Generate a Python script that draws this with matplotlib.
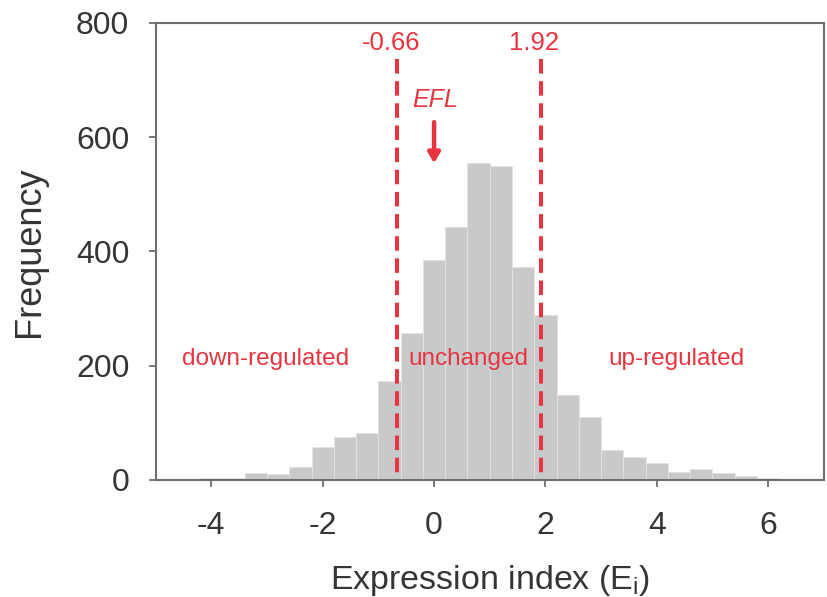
import numpy as np
import matplotlib.pyplot as plt

plt.rcParams['font.family'] = ['Liberation Sans', 'DejaVu Sans']
plt.rcParams['axes.unicode_minus'] = False

# histogram of expression index, bin width 0.4
bin_left = [-4.2, -3.8, -3.4, -3.0, -2.6, -2.2, -1.8, -1.4, -1.0, -0.6,
            -0.2, 0.2, 0.6, 1.0, 1.4, 1.8, 2.2, 2.6, 3.0, 3.4,
            3.8, 4.2, 4.6, 5.0, 5.4, 5.8, 6.2]
counts = [3, 3, 12, 11, 22, 57, 76, 82, 173, 258,
          385, 443, 554, 550, 372, 288, 148, 110, 53, 40,
          29, 14, 20, 12, 7, 4, 2]
cutoffs = [-0.66, 1.92]
cutoff_labels = ['-0.66', '1.92']
regions = ['down-regulated', 'unchanged', 'up-regulated']
region_x = [-3.02, 0.62, 4.36]
xticks = [-4, -2, 0, 2, 4, 6]
yticks = [0, 200, 400, 600, 800]

red = '#e8343e'
grey = '#6e6e6e'
txt = '#353535'

fig = plt.figure(figsize=(8.28, 5.97), dpi=100)
ax = fig.add_axes([0.188, 0.196, 0.807, 0.766])

ax.bar(bin_left, counts, width=0.4, align='edge', color='#c8c9cb',
       edgecolor='#e2e2e2', linewidth=0.6)

# cutoff lines (drawn top-down so the dash pattern starts at the top)
for c, lab in zip(cutoffs, cutoff_labels):
    ax.plot([c, c], [737, 0], color=red, linestyle=(0, (3.6, 1.9)),
            linewidth=2.9, solid_capstyle='butt')
    ax.text(c - 0.12, 765, lab, color=red, fontsize=18.5,
            ha='center', va='center')

for name, x in zip(regions, region_x):
    ax.text(x, 212, name, color=red, fontsize=17.5, ha='center', va='center')

ax.text(0.02, 664, 'EFL', color=red, fontsize=18, style='italic',
        ha='center', va='center')
ax.annotate('', xy=(0, 554), xytext=(0, 626),
            arrowprops=dict(arrowstyle='-|>,head_width=0.35,head_length=0.6',
                            color=red, lw=3.2, shrinkA=0, shrinkB=0))

ax.set_xlim(-5, 7)
ax.set_ylim(0, 800)
ax.set_xticks(xticks)
ax.set_yticks(yticks)
ax.tick_params(axis='both', direction='out', length=5, width=1.3,
               color=grey, labelsize=23, labelcolor=txt)
ax.tick_params(axis='x', pad=17)
ax.tick_params(axis='y', pad=14)
for s in ax.spines.values():
    s.set_color(grey)
    s.set_linewidth(1.5)

ax.set_xlabel('Expression index (E$_\\mathregular{i}$)', fontsize=24.5,
              color=txt, labelpad=16)
ax.set_ylabel('Frequency', fontsize=26, color=txt, labelpad=21)

fig.savefig('out.png', dpi=100)
